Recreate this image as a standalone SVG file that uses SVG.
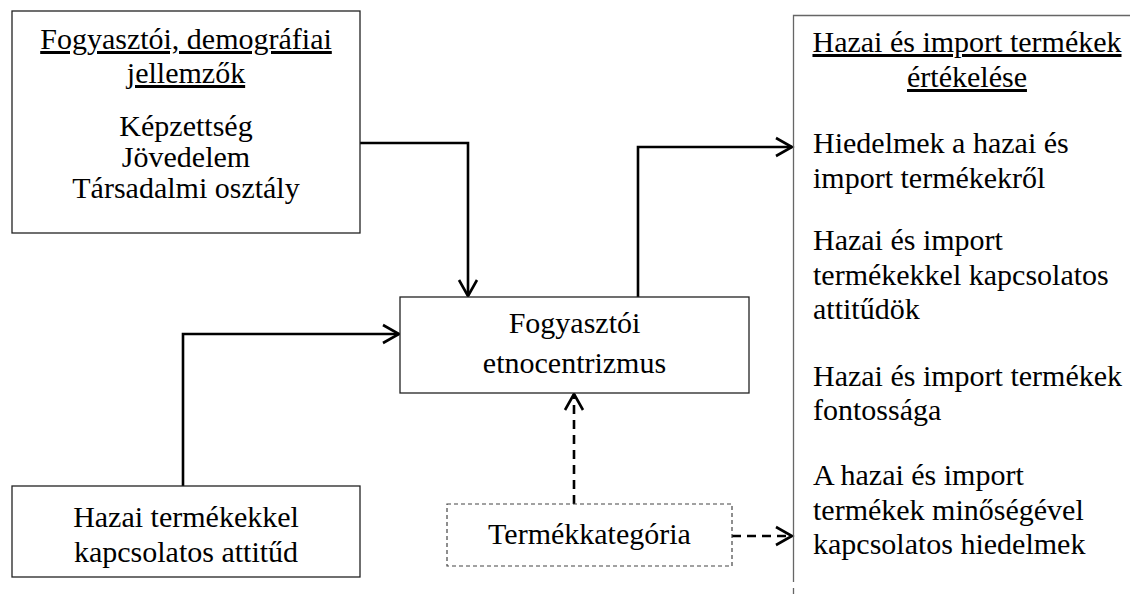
<svg xmlns="http://www.w3.org/2000/svg" width="1130" height="594" viewBox="0 0 1130 594">
<defs>
<style>
text{font-family:"Liberation Serif","Times New Roman",serif;font-size:30px;fill:#000}
.c{text-anchor:middle}
.u{text-decoration:underline}
.box{fill:#fff;stroke:#222;stroke-width:1.3}
.dbox{fill:#fff;stroke:#444;stroke-width:1.2;stroke-dasharray:4 3}
.conn{fill:none;stroke:#000;stroke-width:2.6;marker-end:url(#arr)}
.dash{stroke-dasharray:9 6}
</style>
<marker id="arr" markerUnits="userSpaceOnUse" markerWidth="24" markerHeight="24" viewBox="-20 -12 24 24" refX="0" refY="0" orient="auto">
<path d="M-16,-9 L0,0 L-16,9" fill="none" stroke="#000" stroke-width="2.6"/>
</marker>
</defs>
<rect width="1130" height="594" fill="#fff"/>
<g id="connectors">
<path class="conn" d="M360 143 H468 V296"/>
<path class="conn" d="M183 486 V334 H399"/>
<path class="conn" d="M638 297 V147 H792"/>
<path class="conn dash" d="M574 504 V394"/>
<path class="conn dash" d="M732 536 H792"/>
</g>
<g id="demografia">
<rect class="box" x="12" y="11" width="348" height="222"/>
<text class="c u" x="186" y="49">Fogyasztói, demográfiai</text>
<text class="c u" x="186" y="83">jellemzők</text>
<text class="c" x="186" y="136">Képzettség</text>
<text class="c" x="186" y="167">Jövedelem</text>
<text class="c" x="186" y="198">Társadalmi osztály</text>
</g>
<g id="etnocentrizmus">
<rect class="box" x="400" y="297" width="349" height="96"/>
<text class="c" x="574.5" y="333">Fogyasztói</text>
<text class="c" x="574.5" y="373">etnocentrizmus</text>
</g>
<g id="attitud">
<rect class="box" x="12" y="486" width="348" height="91"/>
<text class="c" x="186" y="527">Hazai termékekkel</text>
<text class="c" x="186" y="562">kapcsolatos attitűd</text>
</g>
<g id="termekkategoria">
<rect class="dbox" x="447" y="504" width="285" height="62"/>
<text class="c" x="589.5" y="544">Termékkategória</text>
</g>
<g id="ertekeles">
<path d="M1130 15.5 H793.5 V582 M793.5 588 V594" fill="none" stroke="#666" stroke-width="1.3"/>
<text class="c u" x="967" y="52">Hazai és import termékek</text>
<text class="c u" x="967" y="87">értékelése</text>
<text x="813" y="153">Hiedelmek a hazai és</text>
<text x="813" y="188">import termékekről</text>
<text x="813" y="250">Hazai és import</text>
<text x="813" y="285">termékekkel kapcsolatos</text>
<text x="813" y="319">attitűdök</text>
<text x="813" y="386">Hazai és import termékek</text>
<text x="813" y="420">fontossága</text>
<text x="813" y="485">A hazai és import</text>
<text x="813" y="520">termékek minőségével</text>
<text x="813" y="554">kapcsolatos hiedelmek</text>
</g>
</svg>
